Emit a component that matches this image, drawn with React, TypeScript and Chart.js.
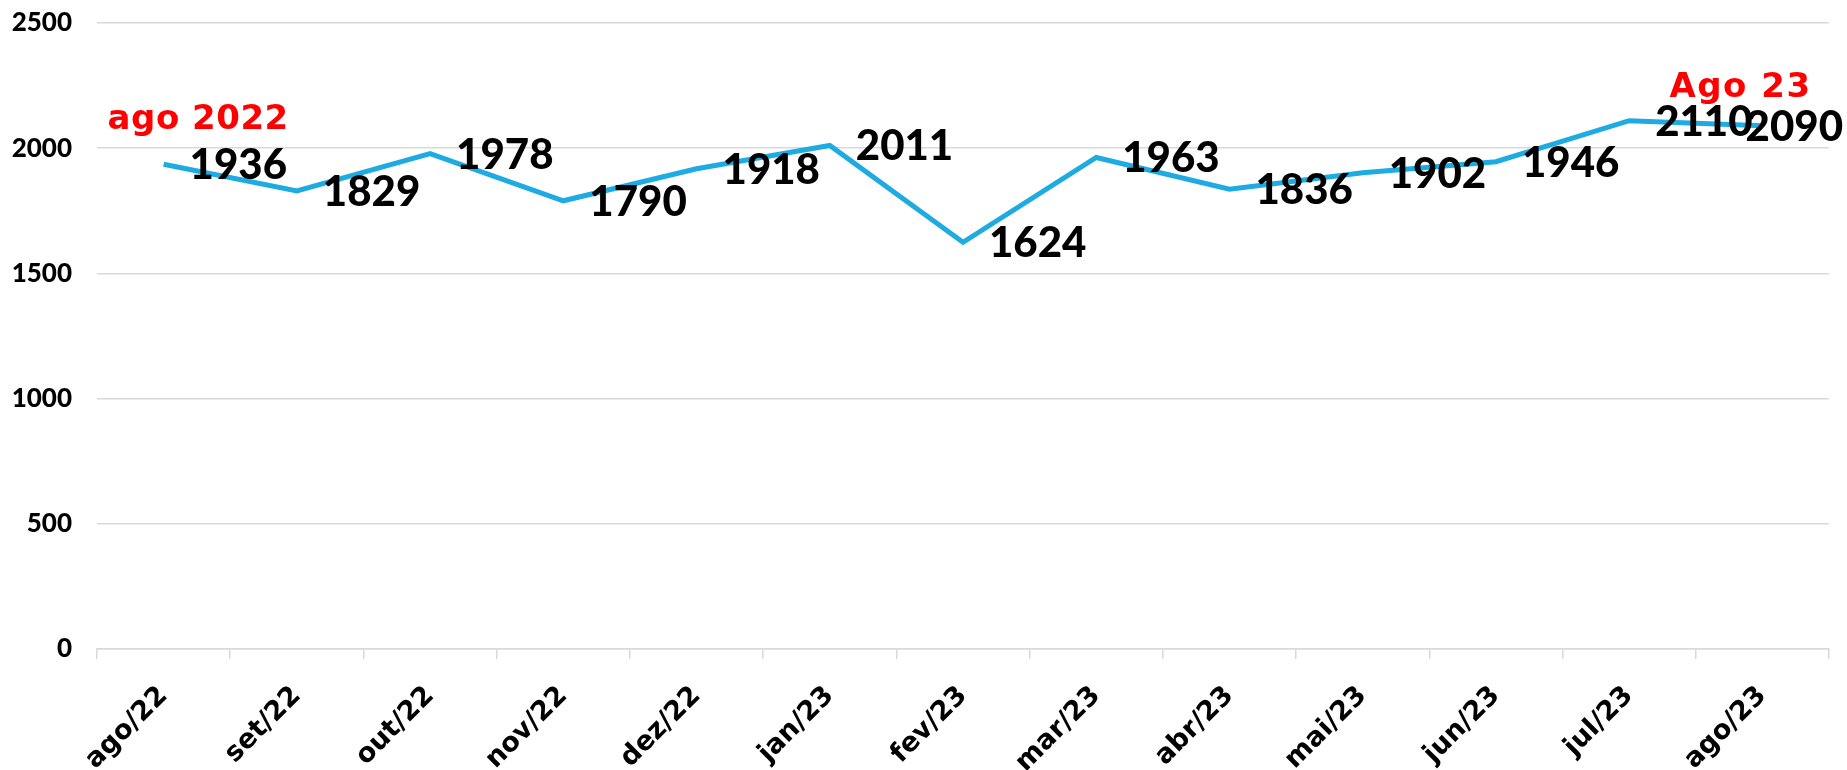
import React, { useEffect, useRef } from 'react';
import { Chart, registerables } from 'chart.js';

Chart.register(...registerables);

const categories = ['ago/22', 'set/22', 'out/22', 'nov/22', 'dez/22', 'jan/23', 'fev/23', 'mar/23', 'abr/23', 'mai/23', 'jun/23', 'jul/23', 'ago/23'];
const values = [1936, 1829, 1978, 1790, 1918, 2011, 1624, 1963, 1836, 1902, 1946, 2110, 2090];
const yMin = 0;
const yMax = 2500;
const yStep = 500;
const firstNote = 'ago 2022';
const lastNote = 'Ago 23';

const labelPlugin = {
  id: 'valueLabels',
  afterDatasetsDraw(chart: any) {
    const ctx = chart.ctx as CanvasRenderingContext2D;
    const meta = chart.getDatasetMeta(0);
    ctx.save();
    ctx.font = '900 42px Lato';
    ctx.fillStyle = '#000000';
    ctx.textAlign = 'left';
    ctx.textBaseline = 'alphabetic';
    meta.data.forEach((pt: any, i: number) => {
      const text = String(values[i]);
      const w = ctx.measureText(text).width;
      let x = pt.x + 26;
      if (x + w > chart.width - 4) x = chart.width - 4 - w;
      ctx.fillText(text, x, pt.y + 15);
    });
    ctx.font = 'bold 34px "DejaVu Sans"';
    (ctx as any).letterSpacing = '0.5px';
    ctx.fillStyle = '#FF0000';
    const p0 = meta.data[0];
    const pN = meta.data[meta.data.length - 1];
    ctx.fillText(firstNote, p0.x - 56, p0.y - 35);
    (ctx as any).letterSpacing = '1.5px';
    ctx.fillText(lastNote, pN.x - 93, pN.y - 29);
    ctx.restore();
  },
};

export default function App() {
  const ref = useRef<HTMLCanvasElement | null>(null);
  useEffect(() => {
    if (!ref.current) return;
    const chart = new Chart(ref.current, {
      type: 'line',
      data: {
        labels: categories,
        datasets: [
          {
            data: values,
            borderColor: '#1DABE2',
            borderWidth: 5,
            pointRadius: 0,
            tension: 0,
            fill: false,
            borderJoinStyle: 'miter',
            borderCapStyle: 'butt',
          },
        ],
      },
      options: {
        animation: false,
        responsive: false,
        layout: { padding: { top: 23, right: 18, bottom: 0, left: 0 } },
        plugins: { legend: { display: false }, tooltip: { enabled: false } },
        scales: {
          x: {
            type: 'category',
            offset: true,
            grid: { display: true, offset: true, drawOnChartArea: false, drawTicks: true, tickLength: 10, color: '#d9d9d9', lineWidth: 1.5 },
            border: { display: true, color: '#d9d9d9', width: 1.5 },
            ticks: {
              autoSkip: false,
              maxRotation: 45,
              minRotation: 45,
              color: '#000000',
              font: { family: 'DejaVu Sans', weight: 'bold', size: 27 },
              padding: 21,
            },
            afterFit: (s: any) => {
              s.height = 121;
              s.paddingLeft = 0;
              s.paddingRight = 0;
            },
          },
          y: {
            min: yMin,
            max: yMax,
            ticks: {
              stepSize: yStep,
              color: '#000000',
              font: { family: 'Lato', weight: '900', size: 26 },
              padding: 25,
              callback: (v: any) => String(v),
            },
            grid: { color: '#d9d9d9', lineWidth: 1.5, drawTicks: false },
            border: { display: false },
            afterFit: (s: any) => {
              s.width = 97;
              s.paddingTop = 0;
              s.paddingBottom = 0;
            },
          },
        },
      } as any,
      plugins: [labelPlugin],
    });
    return () => chart.destroy();
  }, []);
  return (
    <div style={{ position: 'fixed', left: 0, top: 0, width: 1847, height: 770, background: '#ffffff' }}>
      <canvas ref={ref} width={1847} height={770} style={{ display: 'block' }} />
    </div>
  );
}
